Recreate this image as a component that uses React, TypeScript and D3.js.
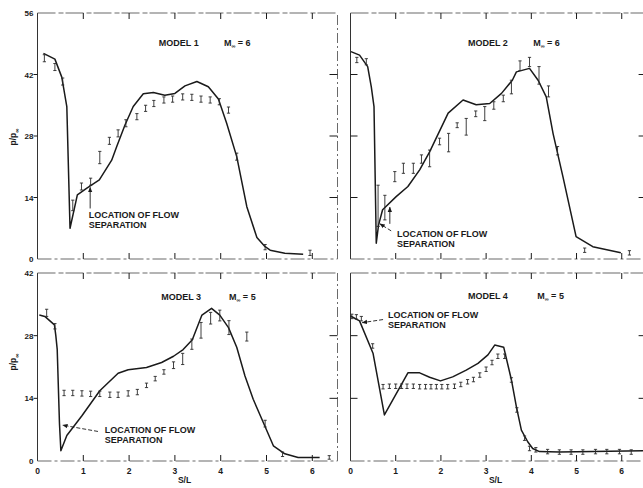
import * as d3 from 'd3';

// ---- data (S/L, p/p∞) ----
const m1LineS = [0.13, 0.38, 0.53, 0.64, 0.71, 0.87, 1.07, 1.35, 1.62, 1.73, 1.91, 2.09, 2.31, 2.53, 2.78, 3.0, 3.22, 3.48, 3.73, 3.95, 4.13, 4.35, 4.57, 4.79, 4.97, 5.08, 5.4, 5.8];
const m1LineV = [46.8, 45.5, 41.4, 34.7, 7.0, 14.6, 16.1, 18.0, 22.5, 25.6, 30.5, 34.7, 37.6, 37.9, 37.3, 37.7, 39.4, 40.4, 39.2, 36.4, 30.9, 23.3, 11.9, 4.9, 2.8, 2.0, 1.3, 1.1];
const m1DataS = [0.15, 0.38, 0.55, 0.77, 0.96, 1.16, 1.36, 1.57, 1.76, 1.93, 2.17, 2.36, 2.54, 2.76, 2.95, 3.17, 3.37, 3.57, 3.77, 3.97, 4.17, 4.35, 4.97, 5.95];
const m1DataV = [45.7, 43.7, 40.4, 12.2, 16.5, 17.6, 23.1, 26.9, 28.6, 30.9, 32.4, 34.3, 35.4, 36.2, 36.4, 36.9, 36.8, 36.4, 36.2, 35.8, 33.9, 23.3, 2.7, 1.4];
const m1DataE = [0.8, 0.8, 0.8, 1.2, 0.8, 0.8, 1.4, 0.8, 0.8, 0.8, 0.7, 0.7, 0.7, 0.7, 0.7, 0.7, 0.7, 0.7, 0.7, 0.7, 0.7, 0.8, 0.6, 0.6];

const m2LineS = [0.01, 0.2, 0.38, 0.46, 0.52, 0.57, 0.62, 0.71, 1.01, 1.27, 1.53, 1.75, 2.16, 2.49, 2.78, 3.08, 3.34, 3.58, 3.67, 3.96, 4.15, 4.33, 4.48, 4.7, 4.99, 5.36, 5.98];
const m2LineV = [47.2, 46.4, 43.8, 39.2, 34.7, 3.6, 7.7, 11.2, 14.2, 16.5, 20.3, 24.4, 33.2, 36.2, 35.1, 35.4, 37.7, 40.7, 42.6, 43.4, 40.7, 36.9, 28.6, 18.7, 5.1, 2.8, 1.4];
const m2DataS = [0.14, 0.35, 0.61, 0.76, 0.98, 1.17, 1.39, 1.57, 1.75, 1.97, 2.17, 2.36, 2.56, 2.77, 2.97, 3.17, 3.38, 3.56, 3.75, 3.96, 4.17, 4.38, 4.58, 5.18, 6.17];
const m2DataV = [45.3, 44.9, 12.1, 11.7, 18.75, 20.65, 20.65, 22.75, 22.9, 26.75, 26.5, 30.45, 30.1, 33.05, 33.1, 34.95, 36.55, 39.15, 44.0, 44.85, 41.8, 38.15, 24.65, 2.0, 1.4];
const m2DataE = [0.6, 0.7, 4.7, 2.8, 1.15, 1.15, 1.15, 0.95, 1.9, 0.75, 2.1, 0.55, 1.9, 0.65, 1.6, 0.85, 0.75, 1.55, 1.1, 1.05, 2.0, 1.25, 0.95, 0.5, 0.5];

const m3LineS = [0.04, 0.16, 0.37, 0.4, 0.43, 0.48, 0.51, 0.64, 0.97, 1.36, 1.76, 1.98, 2.38, 2.71, 2.97, 3.18, 3.38, 3.59, 3.8, 3.98, 4.17, 4.35, 4.53, 4.71, 4.93, 5.15, 5.4, 5.69, 6.16];
const m3LineV = [32.6, 32.3, 30.4, 28.0, 25.0, 8.3, 2.3, 5.7, 10.1, 15.7, 19.6, 20.4, 20.9, 22.0, 23.4, 24.9, 27.1, 32.6, 34.1, 32.6, 29.8, 25.4, 19.0, 13.8, 8.6, 3.4, 1.6, 0.8, 0.8];
const m3DataS = [0.2, 0.38, 0.58, 0.77, 0.97, 1.16, 1.36, 1.58, 1.76, 1.98, 2.18, 2.38, 2.57, 2.76, 2.97, 3.17, 3.37, 3.57, 3.78, 3.98, 4.18, 4.57, 4.97, 5.35, 6.37];
const m3DataV = [33.1, 30.1, 15.2, 15.2, 15.1, 15.0, 15.0, 14.8, 14.8, 15.1, 15.4, 16.9, 18.4, 19.9, 21.4, 22.8, 26.1, 29.2, 31.9, 32.5, 29.8, 27.8, 8.35, 1.5, 0.8];
const m3DataE = [0.8, 0.6, 0.6, 0.6, 0.6, 0.6, 0.6, 0.6, 0.6, 0.6, 0.6, 0.5, 0.5, 0.5, 0.75, 1.25, 1.15, 1.75, 1.3, 1.2, 1.55, 1.0, 0.75, 0.5, 0.4];

const m4LineS = [0.0, 0.2, 0.5, 0.75, 1.27, 1.53, 1.75, 1.99, 2.26, 2.56, 2.82, 3.04, 3.19, 3.39, 3.56, 3.67, 3.78, 3.92, 4.03, 4.18, 4.62, 6.47];
const m4LineV = [32.4, 31.3, 24.0, 10.3, 19.7, 19.7, 18.7, 17.9, 18.8, 20.3, 21.8, 23.7, 25.9, 25.4, 18.1, 12.1, 6.9, 4.3, 2.8, 2.1, 2.0, 2.3];
const m4DataS = [0.03, 0.13, 0.24, 0.49, 0.72, 0.86, 1.0, 1.13, 1.25, 1.39, 1.53, 1.66, 1.78, 1.9, 2.02, 2.15, 2.3, 2.44, 2.59, 2.72, 2.86, 3.0, 3.13, 3.26, 3.41, 3.56, 3.68, 3.85, 3.96, 4.1, 4.36, 4.62, 4.88, 5.14, 5.42, 5.67, 5.95, 6.21];
const m4DataV = [32.3, 32.2, 31.8, 25.7, 16.6, 16.7, 16.7, 16.7, 16.7, 16.7, 16.6, 16.6, 16.6, 16.6, 16.6, 16.6, 16.7, 17.1, 17.7, 18.2, 19.2, 20.5, 22.0, 23.4, 23.4, 18.1, 11.4, 5.1, 2.8, 2.5, 2.1, 2.0, 2.0, 2.0, 2.1, 2.1, 2.1, 2.0];
const m4DataE = m4DataS.map(() => 0.5);

const xTicks = [0, 1, 2, 3, 4, 5, 6];
const yTicksTop = [0, 14, 28, 42, 56];
const yTicksBottom = [0, 14, 28, 42];

const FONT = '"Liberation Sans", Arial, sans-serif';
const INK = '#1a1a1a';

type Note = { tx: number; ty: number; arrows: [number, number, number, number, boolean][] };

type PanelProps = {
  xr: [number, number];
  yr: [number, number];
  yMax: number;
  yTicks: number[];
  lineS: number[]; lineV: number[];
  dataS: number[]; dataV: number[]; dataE: number[];
  model: string; mach: string;
  titleAt: [number, number, number];
  note: Note;
  leftLabels: boolean;
  bottomLabels: boolean;
};

function Panel(p: PanelProps) {
  const x = d3.scaleLinear().domain([0, 6.55]).range(p.xr);
  const y = d3.scaleLinear().domain([0, p.yMax]).range(p.yr);
  const line = d3.line<number>().x((_, i) => x(p.lineS[i])).y(d => y(d));
  const [x0, x1] = p.xr;
  const [yb, yt] = p.yr;
  const frame = '#6a6a6a';
  return (
    <g>
      {/* frame */}
      <line x1={x0} x2={x0} y1={yb} y2={yt} stroke="#333" strokeWidth={1} />
      <line x1={x0} x2={x1} y1={yb} y2={yb} stroke={frame} strokeWidth={1.2} strokeDasharray="14 3 3 3" />
      <line x1={x0} x2={x1} y1={yt} y2={yt} stroke={frame} strokeWidth={1.2} strokeDasharray="18 3 5 2" />
      <line x1={x1} x2={x1} y1={yb} y2={yt} stroke={frame} strokeWidth={1} strokeDasharray="10 3 2 3" />
      {/* x ticks */}
      {xTicks.filter(t => t > 0).map(t => (
        <g key={'xt' + t}>
          <line x1={x(t)} x2={x(t)} y1={yb} y2={yb - 6} stroke={INK} />
          <line x1={x(t)} x2={x(t)} y1={yt} y2={yt + 6} stroke={INK} />
        </g>
      ))}
      {/* y ticks */}
      {p.yTicks.filter(t => t > 0 && t < p.yMax).map(t => (
        <g key={'yt' + t}>
          {p.leftLabels
            ? <line x1={x0 - 4} x2={x0} y1={y(t)} y2={y(t)} stroke={INK} />
            : <line x1={x0} x2={x0 + 7} y1={y(t)} y2={y(t)} stroke={INK} />}
          <line x1={x1 - 8} x2={x1} y1={y(t)} y2={y(t)} stroke={INK} />
        </g>
      ))}
      {p.leftLabels && p.yTicks.map(t => (
        <text key={'yl' + t} x={x0 - 4} y={y(t) + 3} textAnchor="end" fontSize={8} fontWeight="bold"
          fontFamily={FONT} fill={INK}>{t}</text>
      ))}
      {p.bottomLabels && xTicks.map(t => (
        <text key={'xl' + t} x={x(t)} y={yb + 13} textAnchor="middle" fontSize={8.5} fontWeight="bold"
          fontFamily={FONT} fill={INK}>{t}</text>
      ))}
      {p.bottomLabels && (
        <text x={(x0 + x(6.55)) / 2 - 3} y={yb + 22} textAnchor="middle" fontSize={8.5} fontWeight="bold"
          fontFamily={FONT} fill={INK}>S/L</text>
      )}
      {/* curve */}
      <path d={line(p.lineV) || ''} fill="none" stroke={INK} strokeWidth={1.5} strokeLinejoin="round" />
      {/* data bars */}
      {p.dataS.map((s, i) => {
        const cx = x(s), lo = y(p.dataV[i] - p.dataE[i]), hi = y(p.dataV[i] + p.dataE[i]);
        return (
          <g key={'d' + i} stroke="#2a2a2a" strokeWidth={0.9}>
            <line x1={cx} x2={cx} y1={lo} y2={hi} />
            <line x1={cx - 1.6} x2={cx + 1.6} y1={lo} y2={lo} />
            <line x1={cx - 1.6} x2={cx + 1.6} y1={hi} y2={hi} />
          </g>
        );
      })}
      {/* title */}
      <text x={x(p.titleAt[0])} y={y(p.titleAt[2])} fontSize={9} fontWeight="bold" fontFamily={FONT} fill={INK}>{p.model}</text>
      <text x={x(p.titleAt[1])} y={y(p.titleAt[2])} fontSize={9} fontWeight="bold" fontFamily={FONT} fill={INK}>
        M<tspan fontSize={5.5} dy={2}>∞</tspan><tspan dy={-2}> = {p.mach}</tspan>
      </text>
      {/* annotation */}
      <text x={x(p.note.tx)} y={y(p.note.ty)} fontSize={9} fontWeight="bold" fontFamily={FONT} fill={INK}>
        LOCATION OF FLOW
        <tspan x={x(p.note.tx)} dy={10}>SEPARATION</tspan>
      </text>
      {p.note.arrows.map(([s1, v1, s2, v2, dashed], i) => (
        <line key={'a' + i} x1={x(s1)} y1={y(v1)} x2={x(s2)} y2={y(v2)} stroke={INK} strokeWidth={0.9}
          strokeDasharray={dashed ? '4 2' : undefined} markerEnd="url(#head)" />
      ))}
    </g>
  );
}

function YTitle({ cx, cy }: { cx: number; cy: number }) {
  return (
    <text transform={`translate(${cx},${cy}) rotate(-90)`} textAnchor="middle" fontSize={8.5} fontWeight="bold"
      fontFamily={FONT} fill={INK}>
      p/p<tspan fontSize={6} dy={3}>∞</tspan>
    </text>
  );
}

export default function App() {
  const W = 643, H = 488;
  const leftX: [number, number] = [37.5, 337.5];
  const rightX: [number, number] = [350.5, 646.6];
  const topY: [number, number] = [259, 13];
  const botY: [number, number] = [461, 273];
  return (
    <svg width={W} height={H} viewBox={`0 0 ${W} ${H}`}
      style={{ position: 'absolute', left: 0, top: 0, background: '#fff' }}>
      <defs>
        <marker id="head" viewBox="0 0 10 10" refX={9} refY={5} markerWidth={6} markerHeight={6} orient="auto">
          <path d="M0,1 L10,5 L0,9 z" fill={INK} />
        </marker>
      </defs>
      <rect width={W} height={H} fill="#fff" />
      <Panel xr={leftX} yr={topY} yMax={56} yTicks={yTicksTop}
        lineS={m1LineS} lineV={m1LineV} dataS={m1DataS} dataV={m1DataV} dataE={m1DataE}
        model="MODEL 1" mach="6" titleAt={[2.65, 4.07, 48.5]}
        note={{ tx: 1.12, ty: 9.3, arrows: [[1.15, 11.5, 1.15, 16.3, false]] }}
        leftLabels bottomLabels={false} />
      <Panel xr={rightX} yr={topY} yMax={56} yTicks={yTicksTop}
        lineS={m2LineS} lineV={m2LineV} dataS={m2DataS} dataV={m2DataV} dataE={m2DataE}
        model="MODEL 2" mach="6" titleAt={[2.6, 4.04, 48.5]}
        note={{ tx: 1.03, ty: 5.0, arrows: [[0.9, 6.4, 0.65, 8.0, true], [0.87, 8.0, 0.87, 11.8, false]] }}
        leftLabels={false} bottomLabels={false} />
      <Panel xr={leftX} yr={botY} yMax={42} yTicks={yTicksBottom}
        lineS={m3LineS} lineV={m3LineV} dataS={m3DataS} dataV={m3DataV} dataE={m3DataE}
        model="MODEL 3" mach="5" titleAt={[2.7, 4.18, 36]}
        note={{ tx: 1.47, ty: 6.3, arrows: [[1.32, 6.6, 0.55, 8.0, true]] }}
        leftLabels bottomLabels />
      <Panel xr={rightX} yr={botY} yMax={42} yTicks={yTicksBottom}
        lineS={m4LineS} lineV={m4LineV} dataS={m4DataS} dataV={m4DataV} dataE={m4DataE}
        model="MODEL 4" mach="5" titleAt={[2.6, 4.13, 36.2]}
        note={{ tx: 0.83, ty: 31.9, arrows: [[0.72, 31.6, 0.26, 30.9, true]] }}
        leftLabels={false} bottomLabels />
      <YTitle cx={16} cy={137} />
      <YTitle cx={16} cy={362} />
    </svg>
  );
}
